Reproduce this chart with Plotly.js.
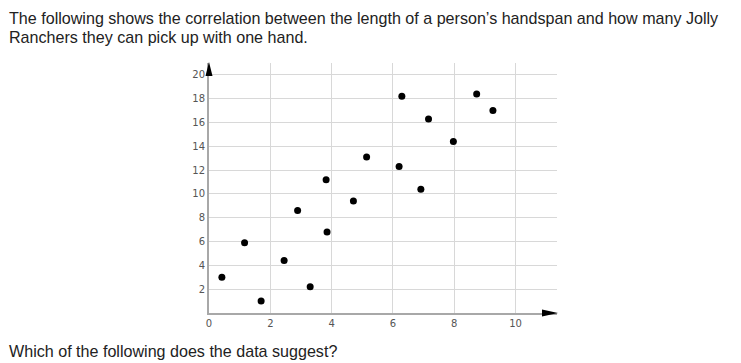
<!DOCTYPE html>
<html>
<head>
<meta charset="utf-8">
<script src="https://cdn.plot.ly/plotly-3.0.1.min.js"></script>
<style>
html,body{margin:0;padding:0;background:#fff;}
#chart{width:741px;height:363px;}
</style>
</head>
<body>
<div id="chart"></div>
<script>
// Handspan length (x) vs Jolly Ranchers picked up (y)
const handspan = [0.42, 1.16, 1.70, 2.45, 2.89, 3.30, 3.82, 3.85, 4.71, 5.14, 6.29, 6.20, 7.16, 6.91, 7.97, 8.73, 9.26];
const jollyRanchers = [3.0, 5.9, 1.0, 4.4, 8.6, 2.2, 11.2, 6.8, 9.4, 13.1, 18.2, 12.3, 16.3, 10.4, 14.4, 18.4, 17.0];
const xTickVals = [0, 2, 4, 6, 8, 10];
const xTickText = ["0", "2", "4", "6", "8", "10"];
const yTickVals = [2, 4, 6, 8, 10, 12, 14, 16, 18, 20];
const yTickText = ["2", "4", "6", "8", "10", "12", "14", "16", "18", "20"];
const xMax = 11.35;
const yMax = 21;
const questionLine1 = "The following shows the correlation between the length of a person’s handspan and how many Jolly";
const questionLine2 = "Ranchers they can pick up with one hand.";
const promptText = "Which of the following does the data suggest?";

const textFont = {family: "Liberation Sans, Arial, sans-serif", size: 16.1, color: "#222"};
const tickFont = {family: "DejaVu Sans, sans-serif", size: 10, color: "#555"};

const trace = {
  x: handspan,
  y: jollyRanchers,
  type: "scatter",
  mode: "markers",
  marker: {color: "#000", size: 7},
  hoverinfo: "skip",
  cliponaxis: false
};

const layout = {
  width: 741,
  height: 363,
  margin: {l: 209, r: 184, t: 63, b: 50, pad: 0},
  paper_bgcolor: "#fff",
  plot_bgcolor: "#fff",
  showlegend: false,
  xaxis: {
    range: [0, xMax],
    tickmode: "array",
    tickvals: xTickVals,
    ticktext: xTickText,
    tickfont: tickFont,
    ticks: "",
    showgrid: true,
    gridcolor: "#d8d8d8",
    gridwidth: 1,
    zeroline: false,
    showline: true,
    linecolor: "#a8a8a8",
    linewidth: 2,
    fixedrange: true
  },
  yaxis: {
    range: [0, yMax],
    tickmode: "array",
    tickvals: yTickVals,
    ticktext: yTickText,
    tickfont: tickFont,
    ticks: "",
    showgrid: true,
    gridcolor: "#d8d8d8",
    gridwidth: 1,
    zeroline: false,
    showline: true,
    linecolor: "#a8a8a8",
    linewidth: 2,
    fixedrange: true
  },
  shapes: [
    {
      type: "path",
      xref: "paper", yref: "paper",
      xsizemode: "pixel", ysizemode: "pixel",
      xanchor: 1, yanchor: 0,
      path: "M1,0 L-15,3.5 L-15,-3.5 Z",
      fillcolor: "#000",
      line: {width: 0},
      layer: "above"
    },
    {
      type: "path",
      xref: "paper", yref: "paper",
      xsizemode: "pixel", ysizemode: "pixel",
      xanchor: 0, yanchor: 1,
      path: "M0,1 L-3.5,-13 L3.5,-13 Z",
      fillcolor: "#000",
      line: {width: 0},
      layer: "above"
    }
  ],
  annotations: [
    {text: questionLine1, xref: "paper", yref: "paper", x: -0.58, y: 1.18, xanchor: "left", yanchor: "middle", showarrow: false, font: textFont},
    {text: questionLine2, xref: "paper", yref: "paper", x: -0.58, y: 1.105, xanchor: "left", yanchor: "middle", showarrow: false, font: textFont},
    {text: promptText, xref: "paper", yref: "paper", x: -0.58, y: -0.152, xanchor: "left", yanchor: "middle", showarrow: false, font: textFont}
  ]
};

Plotly.newPlot("chart", [trace], layout, {displayModeBar: false, staticPlot: true});
</script>
</body>
</html>
